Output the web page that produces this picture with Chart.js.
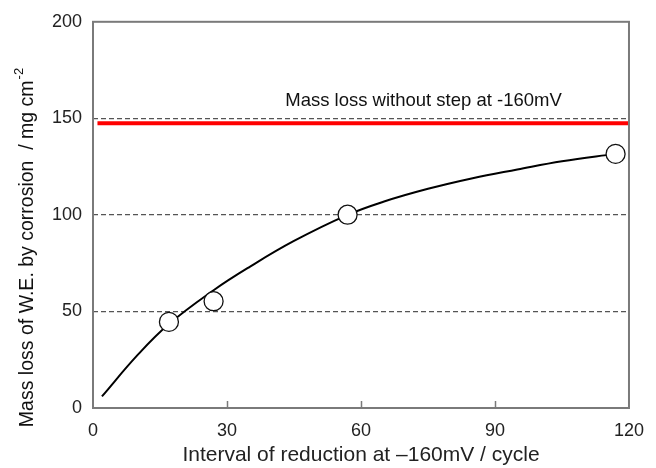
<!DOCTYPE html>
<html>
<head>
<meta charset="utf-8">
<script src="https://cdn.jsdelivr.net/npm/chart.js@4/dist/chart.umd.min.js"></script>
<style>
  html, body { margin: 0; padding: 0; background: #fff; }
</style>
</head>
<body>
<canvas id="massChart" width="656" height="468"></canvas>
<script>
// measured points
const cycles = [17, 27, 57, 117];
const massLoss = [44.6, 55.3, 100.1, 131.6];

// fitted curve
const fitCycles = [2, 10, 17, 27, 35, 45, 57, 65, 75, 85, 95, 105, 117];
const fitLoss = [6, 27.5, 43.5, 61, 73, 86.5, 100, 106.8, 113.5, 119, 123.5, 127.8, 131.6];

// reference level: mass loss without the -160mV step
const noStepCycles = [1, 120];
const noStepLoss = [147.4, 147.4];

const xTicks = [0, 30, 60, 90, 120];
const yTicks = [0, 50, 100, 150, 200];

const fontFamily = "'Liberation Sans', Arial, sans-serif";
const frameColor = '#7a7a7a';

// box around the plot, inner x ticks, y title with superscript, note text
const framePlugin = {
  id: 'frame',
  afterDraw(chart) {
    const { ctx, chartArea: a, scales } = chart;
    ctx.save();
    ctx.strokeStyle = frameColor;
    ctx.lineWidth = 2;
    ctx.strokeRect(a.left, a.top, a.right - a.left, a.bottom - a.top);

    ctx.lineWidth = 1.5;
    xTicks.slice(1, -1).forEach(v => {
      const px = Math.round(scales.x.getPixelForValue(v)) + 0.5;
      ctx.beginPath();
      ctx.moveTo(px, a.bottom);
      ctx.lineTo(px, a.bottom - 7);
      ctx.stroke();
    });

    // note above the red line
    ctx.fillStyle = '#111';
    ctx.font = '18.5px ' + fontFamily;
    ctx.textAlign = 'center';
    ctx.textBaseline = 'middle';
    ctx.fillText('Mass loss without step at -160mV',
      scales.x.getPixelForValue(74), scales.y.getPixelForValue(159));

    // y axis title
    const main = 'Mass loss of W.E. by corrosion  / mg cm';
    const sup = '-2';
    ctx.translate(28, 248);
    ctx.rotate(-Math.PI / 2);
    ctx.font = '19.5px ' + fontFamily;
    const w1 = ctx.measureText(main).width;
    ctx.font = '13px ' + fontFamily;
    const w2 = ctx.measureText(sup).width;
    const start = -(w1 + w2) / 2;
    ctx.textAlign = 'left';
    ctx.font = '19.5px ' + fontFamily;
    ctx.fillText(main, start, 0);
    ctx.font = '13px ' + fontFamily;
    ctx.fillText(sup, start + w1 + 1, -9);
    ctx.restore();
  }
};

new Chart(document.getElementById('massChart'), {
  type: 'scatter',
  data: {
    datasets: [
      {
        label: 'Measured',
        data: cycles.map((x, i) => ({ x: x, y: massLoss[i] })),
        pointRadius: 9.5,
        pointBackgroundColor: '#fff',
        pointBorderColor: '#111',
        pointBorderWidth: 1.3,
        showLine: false
      },
      {
        label: 'Fit',
        data: fitCycles.map((x, i) => ({ x: x, y: fitLoss[i] })),
        showLine: true,
        borderColor: '#000',
        borderWidth: 2,
        pointRadius: 0,
        tension: 0.4
      },
      {
        label: 'Without step',
        data: noStepCycles.map((x, i) => ({ x: x, y: noStepLoss[i] })),
        showLine: true,
        borderColor: '#ff0000',
        borderWidth: 4,
        pointRadius: 0
      }
    ]
  },
  options: {
    responsive: false,
    animation: false,
    devicePixelRatio: 1,
    layout: { padding: { top: 21, right: 19, left: 0, bottom: 0 } },
    plugins: {
      legend: { display: false },
      tooltip: { enabled: false }
    },
    scales: {
      x: {
        type: 'linear',
        min: 0,
        max: 120,
        afterBuildTicks: (scale) => { scale.ticks = xTicks.map(v => ({ value: v })); },
        afterFit: (scale) => { scale.height = 60; },
        grid: { display: false, drawTicks: false },
        border: { display: false },
        ticks: {
          color: '#222',
          padding: 12,
          font: { family: fontFamily, size: 18 }
        },
        title: {
          display: true,
          text: 'Interval of reduction at \u2013160mV / cycle',
          color: '#222',
          font: { family: fontFamily, size: 21 },
          padding: { top: 0, bottom: 0 }
        }
      },
      y: {
        min: 0,
        max: 200,
        afterBuildTicks: (scale) => { scale.ticks = yTicks.map(v => ({ value: v })); },
        afterFit: (scale) => { scale.width = 93; },
        grid: {
          drawTicks: false,
          lineWidth: 1.3,
          color: (c) => (c.tick && (c.tick.value === 0 || c.tick.value === 200)) ? 'rgba(0,0,0,0)' : '#555'
        },
        border: { display: false, dash: [5, 3] },
        ticks: {
          color: '#222',
          padding: 11,
          font: { family: fontFamily, size: 18 }
        }
      }
    }
  },
  plugins: [framePlugin]
});
</script>
</body>
</html>
